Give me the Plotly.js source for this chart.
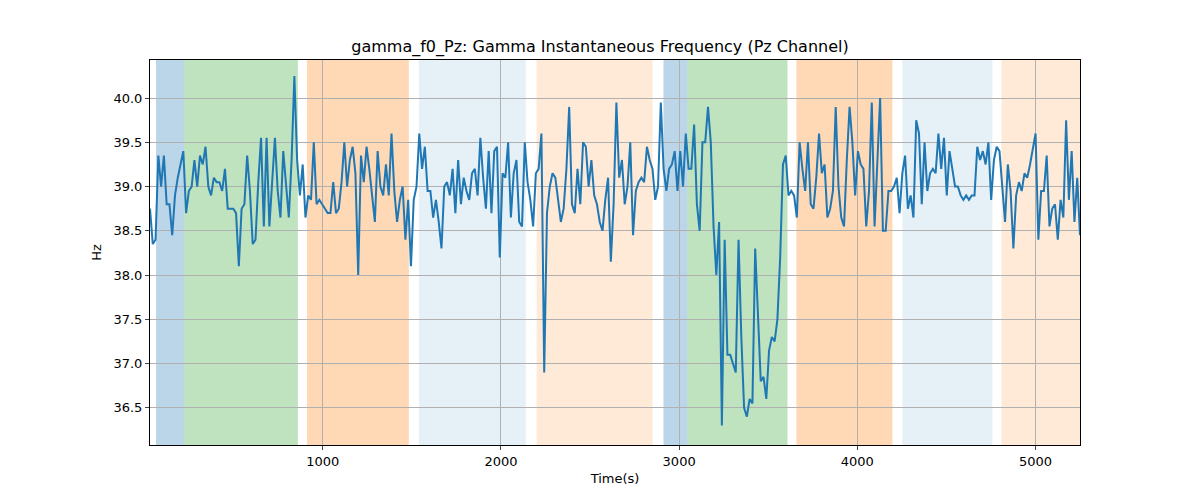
<!DOCTYPE html>
<html>
<head>
<meta charset="utf-8">
<script src="https://cdn.plot.ly/plotly-3.0.1.min.js"></script>
<style>body{margin:0}</style>
</head>
<body>
<div id="plot" style="width:1200px;height:500px"></div>
<script>
// Gamma instantaneous frequency (Hz), evenly sampled from t_start to t_end
const t_start = 30
const t_end = 5250
const freq = [
    38.75, 38.35, 38.4, 39.35, 39.0, 39.35, 38.8, 38.8, 38.45, 38.9, 39.1, 39.25, 39.4, 38.7, 38.95, 39.0,
    39.3, 39.0, 39.35, 39.25, 39.45, 39.0, 38.9, 39.1, 39.05, 39.05, 38.95, 39.2, 38.75, 38.75, 38.75, 38.7,
    38.1, 38.75, 38.8, 39.35, 38.95, 38.35, 38.4, 39.05, 39.55, 38.55, 39.55, 38.55, 39.05, 39.55, 38.95,
    38.65, 39.4, 39.05, 38.65, 39.3, 40.25, 39.3, 38.9, 39.25, 38.65, 38.9, 38.85, 39.5, 38.8, 38.85, 38.8,
    38.75, 38.7, 38.7, 39.05, 38.7, 38.75, 39.05, 39.5, 39.0, 39.3, 39.45, 39.15, 38.0, 39.35, 39.05, 39.45,
    39.2, 38.9, 38.6, 39.4, 39.0, 38.9, 39.25, 38.9, 39.6, 38.95, 38.6, 38.85, 39.0, 38.4, 38.85, 38.1, 38.85,
    39.0, 39.6, 39.2, 39.45, 38.95, 38.95, 38.65, 38.85, 38.6, 38.3, 39.0, 39.05, 38.9, 39.2, 38.7, 39.3,
    38.8, 39.1, 38.95, 38.85, 39.15, 39.2,
    38.9, 39.55, 39.1, 38.75, 39.4, 38.7, 39.4, 39.45, 38.2, 39.15, 39.1, 39.5, 38.65, 39.15, 39.3, 38.6,
    38.55, 39.5, 39.05, 38.85, 38.55, 39.15, 39.2, 39.6, 36.9, 38.7, 39.0, 39.15, 39.1, 38.85, 38.6, 38.75,
    39.2, 39.9, 38.8, 38.7, 39.2, 38.8, 39.5, 39.45, 39.0, 39.3, 38.9, 38.8, 38.6, 38.5, 38.85, 39.1, 38.15,
    38.8, 39.95, 39.1, 39.3, 38.8, 39.0, 39.5, 38.45, 38.95, 39.05, 39.1, 39.05, 39.45, 39.3, 39.2, 38.85,
    39.0, 39.95, 39.2, 38.95, 39.2, 39.25, 39.4, 38.95, 39.4, 39.0, 39.6, 39.2, 39.2, 39.7, 38.8, 38.5, 39.5,
    39.5, 39.9, 39.5, 38.55, 38.0, 38.6, 36.3, 38.4, 37.1, 37.1, 37.0, 36.9, 38.4, 37.3, 36.5, 36.4, 36.6,
    36.55, 38.3, 37.6, 36.8, 36.85, 36.6, 37.15, 37.3, 37.25, 37.5, 38.2, 39.25, 39.35, 38.9, 38.95, 38.9,
    38.65, 39.5, 39.2, 38.95, 39.5, 38.8, 38.75, 39.1, 39.6, 39.15, 39.25, 38.65, 38.75, 38.95, 39.9, 39.0,
    38.65, 38.55, 39.3, 39.9, 39.5, 38.9, 39.4, 39.25, 39.2, 38.55, 38.95, 39.95, 38.55, 39.2, 40.0, 38.5,
    38.5, 38.95, 38.95, 39.0, 39.1, 38.7, 39.15, 39.35, 38.75, 38.9, 38.65, 39.75, 39.6, 38.8, 39.5, 38.95,
    39.15, 39.2, 39.15, 39.6, 39.2, 39.55, 38.9, 39.4, 39.2, 39.0, 39.0, 38.9, 38.85, 38.9, 38.85, 38.9,
    38.9, 39.45, 39.3, 39.4, 39.25, 39.5, 38.85, 39.3, 39.45, 39.4, 39.0, 38.6, 39.25, 38.95, 38.3, 38.9,
    39.05, 38.95, 39.15, 39.1, 39.25, 39.45, 39.6, 38.4, 38.95, 38.95, 39.35, 38.55, 38.75, 38.8, 38.4,
    38.85, 38.65, 39.75, 38.85, 39.4, 38.6, 39.1, 38.45
]

// shaded segments: start, end (s) and colour
const seg_start = [64, 221, 911, 1539, 2200, 2912, 3047, 3658, 4253, 4809]
const seg_end = [221, 860, 1483, 2139, 2851, 3047, 3608, 4197, 4758, 5260]
const seg_color = [
    'rgba(31,119,180,0.3)', 'rgba(44,160,44,0.3)', 'rgba(255,127,14,0.3)', 'rgba(31,119,180,0.11)',
    'rgba(255,127,14,0.16)', 'rgba(31,119,180,0.3)', 'rgba(44,160,44,0.3)', 'rgba(255,127,14,0.3)',
    'rgba(31,119,180,0.11)', 'rgba(255,127,14,0.16)'
]

const dt = (t_end - t_start) / (freq.length - 1)
const t = freq.map((_, i) => t_start + i * dt)

const shapes = seg_start.map((s, i) => ({
    type: 'rect', xref: 'x', yref: 'paper', x0: s, x1: seg_end[i], y0: 0, y1: 1,
    fillcolor: seg_color[i], line: { width: 0 }, layer: 'below'
}))

const data = [{ x: t, y: freq, mode: 'lines', line: { color: '#1f77b4', width: 2 }, hoverinfo: 'x+y' }]

const axis_common = {
    showgrid: true, gridcolor: '#b0b0b0', gridwidth: 1, zeroline: false,
    showline: true, linecolor: 'black', mirror: true, ticks: 'outside', ticklen: 4,
    tickfont: { size: 13, color: 'black' }
}

const layout = {
    width: 1200, height: 500,
    font: { family: 'DejaVu Sans', color: 'black' },
    paper_bgcolor: 'white', plot_bgcolor: 'white',
    margin: { l: 150, r: 120, t: 60, b: 55 },
    title: { text: 'gamma_f0_Pz: Gamma Instantaneous Frequency (Pz Channel)', font: { size: 16 }, x: 0.5, y: 0.908, yanchor: 'middle' },
    xaxis: Object.assign({}, axis_common, { range: [30, 5250], tickvals: [1000, 2000, 3000, 4000, 5000], title: { text: 'Time(s)', font: { size: 13 }, standoff: 6 } }),
    yaxis: Object.assign({}, axis_common, { range: [36.08, 40.43], dtick: 0.5, tickformat: '.1f', title: { text: 'Hz', font: { size: 13 }, standoff: 8 } }),
    shapes: shapes,
    showlegend: false
}

Plotly.newPlot('plot', data, layout, { displaylogo: false, displayModeBar: false })
</script>
</body>
</html>
